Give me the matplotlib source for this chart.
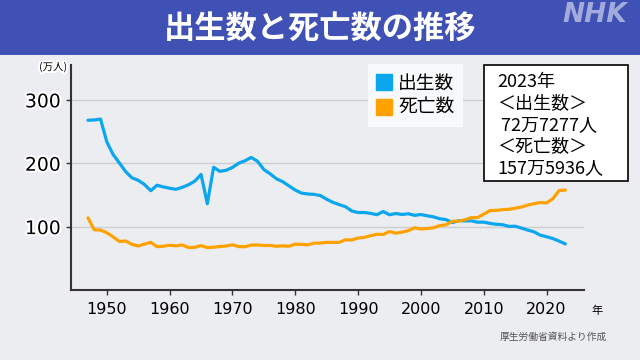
import matplotlib
matplotlib.use('Agg')
import matplotlib.pyplot as plt
from matplotlib.patches import Rectangle
from matplotlib.lines import Line2D
import matplotlib.patheffects as pe

# ---- data (万人) ----
years = list(range(1947, 2024))
births = [267.9, 268.2, 269.7, 233.8, 213.8, 200.5, 186.8, 177.0, 173.1, 166.5,
          156.7, 165.3, 162.6, 160.6, 158.9, 161.9, 166.0, 171.7, 182.4, 136.1,
          193.6, 187.2, 188.9, 193.4, 200.1, 203.9, 209.2, 203.0, 190.1, 183.3,
          175.5, 170.9, 164.3, 157.7, 152.9, 151.5, 150.9, 149.0, 143.2, 138.3,
          134.7, 131.4, 124.7, 122.2, 122.3, 120.9, 118.8, 123.8, 118.7, 120.7,
          119.2, 120.3, 117.8, 119.1, 117.1, 115.4, 112.4, 111.1, 106.3, 109.3,
          109.0, 109.1, 107.0, 107.1, 105.1, 103.7, 103.0, 100.4, 100.6, 97.7,
          94.6, 91.8, 86.5, 84.1, 81.2, 77.1, 72.7]
deaths = [113.8, 95.0, 94.5, 90.5, 83.9, 76.5, 77.3, 72.1, 69.4, 72.4,
          75.2, 68.4, 69.0, 70.7, 69.6, 71.0, 67.1, 67.3, 70.0, 67.0,
          67.5, 68.6, 69.4, 71.3, 68.5, 68.3, 70.9, 71.1, 70.2, 70.3,
          69.0, 69.6, 69.0, 72.3, 72.0, 71.2, 74.0, 74.0, 75.2, 75.1,
          75.1, 79.3, 78.9, 82.0, 83.0, 85.7, 87.9, 87.6, 92.2, 89.6,
          91.3, 93.6, 98.2, 96.2, 97.0, 98.2, 101.5, 102.9, 108.4, 108.5,
          110.8, 114.2, 114.2, 119.7, 125.3, 125.6, 126.8, 127.3, 129.0, 130.8,
          134.0, 136.2, 138.1, 137.3, 144.0, 156.9, 157.6]
series_names = ['出生数', '死亡数']
xticks = [1950, 1960, 1970, 1980, 1990, 2000, 2010, 2020]
yticks = [100, 200, 300]
title = '出生数と死亡数の推移'
note_lines = ['2023年', '＜出生数＞', ' 72万7277人', '＜死亡数＞', '157万5936人']
y_unit = '(万人)'
x_unit = '年'
source = '厚生労働省資料より作成'

plt.rcParams['font.family'] = ['DejaVu Sans', 'Noto Sans CJK JP']

W, H = 640, 360
BG = '#ECEDF0'
BLUE = '#0AA6EE'
ORANGE = '#FFA200'

fig = plt.figure(figsize=(6.4, 3.6), dpi=100, facecolor=BG)

# title bar
fig.patches.append(Rectangle((0, 1 - 55 / H), 1, 55 / H, transform=fig.transFigure,
                             facecolor='#4051B5', edgecolor='none', zorder=0))
fig.text(0.5, 1 - 29 / H, title, color='white', fontsize=22.5, fontweight='bold',
         ha='center', va='center', family='Noto Sans CJK JP')
fig.text(595 / W, 1 - 15 / H, 'NHK', color='#A3ABDD', fontsize=19, fontweight='bold',
         fontstyle='italic', ha='center', va='center', family='DejaVu Sans')

ax = fig.add_axes([71 / W, 1 - 290 / H, (583.6 - 71) / W, (290 - 65) / H])
ax.set_facecolor('none')
ax.set_xlim(1944.3, 2025.9)
ax.set_ylim(0, 355)

ax.plot(years, births, color=BLUE, lw=2.3, solid_joinstyle='round', solid_capstyle='round', zorder=3)
ax.plot(years, deaths, color=ORANGE, lw=2.3, solid_joinstyle='round', solid_capstyle='round', zorder=3)

ax.set_xticks(xticks)
ax.set_yticks(yticks)
ax.yaxis.grid(True, color='#CDCED2', lw=1)
ax.set_axisbelow(True)
for s in ['top', 'right']:
    ax.spines[s].set_visible(False)
for s in ['left', 'bottom']:
    ax.spines[s].set_color('#333333')
    ax.spines[s].set_linewidth(1.5)
ax.tick_params(direction='out', length=3.5, width=1, color='#333333')
ax.tick_params(axis='x', labelsize=11.5, pad=5)
ax.tick_params(axis='y', labelsize=13.5, pad=4)
stroke = [pe.withStroke(linewidth=3, foreground='white')]
for lab in ax.get_yticklabels():
    lab.set_path_effects(stroke)

# legend
handles = [Line2D([], [], linestyle='none', marker='s', markersize=11,
                  markerfacecolor=c, markeredgecolor=c) for c in (BLUE, ORANGE)]
leg = ax.legend(handles, series_names, loc='upper left',
                bbox_to_anchor=(368 / W, 1 - 64 / H), bbox_transform=fig.transFigure,
                borderaxespad=0, frameon=True, fancybox=False, framealpha=1,
                edgecolor='none', facecolor='#F8F9FA',
                handlelength=0.8, handletextpad=0.35, labelspacing=0.2,
                borderpad=0.45, prop={'family': 'Noto Sans CJK JP', 'size': 13.5})

# annotation box
fig.patches.append(Rectangle((484 / W, 1 - 181 / H), 144 / W, 116 / H, transform=fig.transFigure,
                             facecolor='white', edgecolor='black', lw=1.2, zorder=5))
for txt, yc in zip(note_lines, [82, 103.5, 125, 146.5, 168]):
    fig.text(497 / W, 1 - yc / H, txt, fontsize=13, ha='left', va='center',
             family='Noto Sans CJK JP', zorder=6)

fig.text(53 / W, 1 - 67 / H, y_unit, fontsize=7.5, ha='center', va='center',
         family='Noto Sans CJK JP', path_effects=stroke)
fig.text(597 / W, 1 - 311 / H, x_unit, fontsize=8, ha='center', va='center',
         family='Noto Sans CJK JP')
fig.text(553 / W, 1 - 337 / H, source, fontsize=7, color='#555555', ha='center', va='center',
         family='Noto Sans CJK JP')

fig.savefig('out.png', dpi=100, facecolor=BG)
